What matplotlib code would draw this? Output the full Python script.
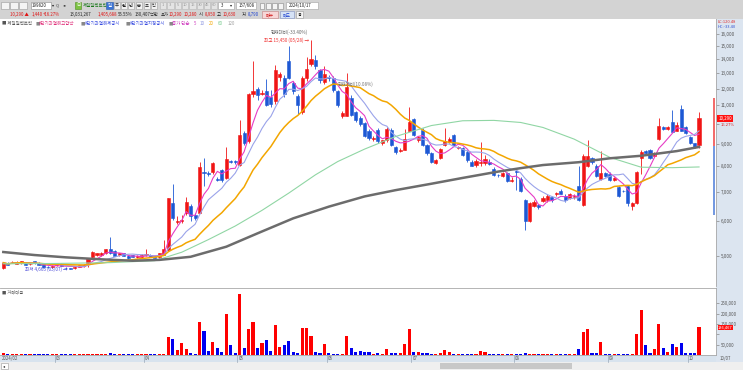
import numpy as np
import pandas as pd
import matplotlib
matplotlib.use('Agg')
import matplotlib.pyplot as plt
from matplotlib.patches import Rectangle
from matplotlib.ticker import FixedLocator, NullLocator, FuncFormatter

plt.rcParams['font.family'] = ['Noto Sans CJK KR', 'DejaVu Sans']

# daily candles 2024/02 .. 2024/10/07
opens = [4690, 4820, 4835, 4800, 4820, 4830, 4790, 4860, 4820, 4810,
         4730, 4720, 4770, 4790, 4700, 4690, 4690, 4730, 4740, 4820,
         4970, 5040, 5020, 5070, 5180, 5140, 5020, 5070, 5000, 5020,
         4980, 4970, 5020, 5040, 4990, 4980, 5030, 5160, 6600, 5980,
         6000, 6270, 6480, 6200, 6270, 7780, 7720, 7780, 7470, 7850,
         7520, 8220, 8210, 8070, 9520, 9110, 11650, 11970, 11700, 11850,
         11500, 11230, 12730, 12700, 13850, 12370, 11530, 10600, 12700, 13650,
         13950, 13210, 12420, 12750, 12700, 11850, 10400, 10400, 11430, 10640,
         10290, 10040, 9640, 9240, 9690, 9030, 9185, 9690, 8830, 8680,
         8720, 9640, 10250, 9185, 9690, 8940, 8580, 8130, 8340, 8940,
         9100, 9430, 8790, 8790, 8640, 8200, 8050, 8150, 8130, 8200,
         7870, 7660, 7590, 7710, 7390, 7790, 7480, 6700, 6000, 6480,
         6530, 6680, 6700, 6800, 6920, 7025, 6860, 6780, 6800, 7200,
         6530, 8000, 8340, 8030, 7480, 7710, 7690, 7430, 7170, 7040,
         7230, 6480, 6590, 8340, 8660, 8720, 8460, 9230, 9810, 9720,
         10080, 9640, 10790, 9810, 9300, 9030, 8950]
highs = [4850, 4850, 4880, 4860, 4880, 4850, 4830, 4880, 4840, 4830,
         4750, 4760, 4830, 4810, 4720, 4700, 4740, 4770, 4790, 4960,
         5130, 5090, 5110, 5200, 5530, 5160, 5090, 5090, 5020, 5040,
         5020, 5050, 5180, 5060, 5000, 5090, 5440, 6760, 7300, 6150,
         6200, 6800, 6560, 6250, 8200, 8350, 7800, 8200, 7550, 7900,
         8830, 8260, 8250, 10200, 9600, 11740, 13850, 12100, 11900, 12600,
         11900, 13600, 13100, 12900, 15050, 12500, 11700, 12800, 14150, 15450,
         14300, 13300, 13500, 12900, 12800, 11900, 10700, 13000, 11600, 10700,
         10400, 10100, 9700, 9350, 9750, 9200, 9800, 9750, 8900, 8800,
         9700, 10900, 10300, 9350, 9750, 9000, 8600, 8300, 8800, 9750,
         9300, 9480, 8900, 8850, 8700, 8250, 8300, 9100, 8500, 8300,
         7950, 7700, 7750, 7750, 7560, 7850, 7550, 6750, 6650, 6700,
         6560, 6850, 6900, 6850, 7000, 7100, 6900, 6950, 6900, 8000,
         8550, 9200, 8400, 8100, 8650, 7750, 7750, 7560, 7200, 7080,
         7250, 6620, 7800, 8700, 8700, 8750, 8600, 10280, 9900, 9900,
         10750, 10100, 11000, 9850, 9350, 9050, 10630]
lows = [4680, 4760, 4820, 4790, 4800, 4770, 4770, 4800, 4770, 4700,
        4700, 4700, 4750, 4740, 4680, 4665, 4680, 4720, 4730, 4720,
        4950, 5010, 5000, 5050, 5050, 4990, 5000, 4990, 4930, 4970,
        4960, 4950, 5000, 4970, 4940, 4960, 5020, 5120, 6050, 5900,
        5950, 6200, 6000, 6050, 6250, 7200, 7600, 7700, 7400, 7380,
        7500, 8150, 8100, 8000, 8950, 9050, 11500, 11300, 11600, 10950,
        10900, 11100, 12500, 11500, 12600, 11700, 10500, 10500, 12500, 13500,
        13300, 12400, 12300, 12500, 11800, 10900, 10300, 10380, 10400, 10100,
        9900, 9300, 9200, 9150, 9050, 8950, 9100, 8900, 8550, 8600,
        8700, 9600, 9350, 9100, 8900, 8500, 8150, 8100, 8300, 8900,
        9050, 8900, 8750, 8450, 8200, 8000, 7950, 8000, 8050, 8050,
        7600, 7550, 7550, 7350, 7350, 7050, 7000, 5730, 5980, 6450,
        6400, 6650, 6650, 6650, 6850, 6900, 6650, 6750, 6750, 6680,
        6500, 7950, 8100, 7550, 7450, 7580, 7400, 7400, 6800, 6980,
        6500, 6350, 6550, 7700, 8550, 8300, 8400, 9200, 9650, 9650,
        9550, 9600, 9600, 9450, 8990, 8820, 8790]
closes = [4830, 4770, 4850, 4840, 4860, 4780, 4800, 4810, 4780, 4710,
          4710, 4740, 4820, 4750, 4690, 4680, 4730, 4760, 4770, 4940,
          5110, 5070, 5090, 5180, 5070, 5000, 5070, 5000, 4940, 4980,
          5000, 5030, 5050, 4980, 4960, 5070, 5200, 6760, 6100, 6000,
          6050, 6640, 6150, 6100, 7950, 7710, 7700, 8130, 7450, 7430,
          8300, 8200, 8190, 9430, 9030, 11670, 11890, 11600, 11750, 11020,
          11100, 13210, 12940, 11700, 12700, 11850, 11020, 12700, 13290, 14040,
          13500, 12585, 12970, 12700, 11900, 11020, 10560, 12090, 10480, 10200,
          9990, 9370, 9260, 9280, 9110, 9160, 9740, 8940, 8640, 8720,
          9240, 10060, 9430, 9300, 8940, 8580, 8200, 8270, 8740, 9110,
          9230, 8940, 8860, 8500, 8270, 8030, 8220, 8180, 8300, 8100,
          7650, 7650, 7710, 7390, 7460, 7770, 7025, 6000, 6590, 6650,
          6460, 6780, 6830, 6700, 6940, 6930, 6690, 6900, 6850, 6700,
          8420, 8450, 8160, 7590, 7730, 7620, 7450, 7520, 6860, 7030,
          6590, 6590, 7775, 8640, 8580, 8340, 8540, 9850, 9720, 9810,
          9590, 9950, 9640, 9520, 9030, 8850, 10290]
volumes = [9000, 4000, 3000, 4000, 4000, 3000, 3000, 4000, 3000, 5000,
           3000, 3000, 4000, 3000, 3000, 3000, 3000, 3000, 3000, 5000,
           5000, 4000, 4000, 5000, 8000, 4000, 3000, 3000, 3000, 3000,
           3000, 3000, 4000, 3000, 3000, 4000, 5000, 86000, 76000, 24000,
           57000, 29000, 8000, 5000, 159000, 116000, 19000, 61000, 34000, 13000,
           197000, 47000, 12000, 295000, 32000, 126000, 159000, 36000, 57000, 73000,
           19000, 146000, 40000, 49000, 68000, 13000, 8000, 133000, 133000, 92000,
           13000, 8000, 52000, 11000, 6000, 5000, 6000, 94000, 36000, 16000,
           19000, 13000, 13000, 6000, 11000, 6000, 29000, 8000, 8000, 8000,
           52000, 126000, 16000, 16000, 8000, 8000, 5000, 5000, 8000, 23000,
           13000, 5000, 4000, 5000, 5000, 5000, 5000, 21000, 13000, 5000,
           6000, 4000, 4000, 5000, 4000, 5000, 6000, 8000, 6000, 4000,
           4000, 4000, 5000, 4000, 4000, 4000, 4000, 4000, 4000, 29000,
           113000, 125000, 11000, 9000, 65000, 6000, 5000, 5000, 5000, 5000,
           6000, 4000, 100000, 218000, 49000, 11000, 27000, 149000, 36000, 16000,
           53000, 40000, 60000, 11000, 9000, 9000, 136467]

# 60 / 120 day averages as drawn on the chart (need history before the window)
ma60_idx = [0, 12, 24, 34, 40, 46, 52, 58, 64, 70, 75, 81, 88, 96, 103, 110,
            116, 121, 128, 136, 143, 150, 156]
ma60_val = [4800, 4810, 4830, 4880, 5100, 5450, 5850, 6350, 6950, 7650, 8200,
            8750, 9350, 9900, 10150, 10170, 10060, 9800, 9220, 8380, 7960, 7940, 7970]
ma120_idx = [0, 7, 14, 22, 29, 35, 42, 50, 57, 65, 73, 81, 88, 96, 103, 111,
             116, 121, 129, 136, 143, 151, 156]
ma120_val = [5106, 5026, 4966, 4914, 4878, 4900, 4980, 5250, 5630, 6090, 6475,
             6830, 7060, 7300, 7525, 7780, 7920, 8050, 8170, 8340, 8450, 8660, 8850]

month_labels = ['2024/02', '03', '04', '05', '06', '07', '08', '09', '10']
month_starts = [0, 12, 32, 53, 73, 92, 115, 136, 154]
price_ticks = [5000, 6000, 7000, 8000, 9000, 10000, 11000, 12000, 13000, 14000, 15000, 16000]
vol_ticks = [50000, 100000, 150000, 200000, 250000]
hidden_labels = [10000, 100000]     # covered by the current value boxes
range_marks = [11450, 8880, 6200]   # right edge red/blue bar
hi_idx, lo_idx = 69, 15

W, H = 743, 370
fig = plt.figure(figsize=(W / 100, H / 100), dpi=100)
fig.patch.set_facecolor('white')


def fx(px):
    return px / W


def fy(py):
    return 1 - py / H


def ftext(x, y, s, **kw):
    kw.setdefault('fontsize', 3.2)
    kw.setdefault('va', 'center')
    kw.setdefault('color', '#222222')
    fig.text(fx(x), fy(y), s, **kw)


def fbox(x0, y0, x1, y1, fc, ec='none', lw=0.4, z=-1):
    fig.add_artist(Rectangle((fx(x0), fy(y1)), fx(x1) - fx(x0), fy(y0) - fy(y1),
                             transform=fig.transFigure, fc=fc, ec=ec, lw=lw, zorder=z))


def tick_fmt(v, p):
    if int(round(v)) in hidden_labels:
        return ''
    return f'{int(round(v)):,}'


# backgrounds: toolbar, right scale, date strip, scroll bar
fbox(0, 0, 743, 19, '#d3d3d3')
fbox(716, 19, 743, 362, '#dce5f0')
fbox(0, 355, 716, 362, '#d8e3ee')
fbox(0, 362, 743, 370, '#efefef')
fbox(440, 363, 572, 369, '#c8c8c8')
fbox(1, 363, 8, 369, '#ffffff', ec='#999999')
ftext(4.5, 366, '◂', fontsize=3, ha='center')

idx = np.arange(len(closes))
o = np.array(opens, float)
hgh = np.array(highs, float)
low = np.array(lows, float)
c = np.array(closes, float)
up = c >= o
col = np.where(up, '#f01515', '#1d58d4')

# price panel
ax = fig.add_axes([0, fy(286), fx(716), (286 - 19) / H])
ax.set_facecolor('white')
ax.vlines(idx, low, hgh, colors=col, lw=0.6, zorder=2)
ax.bar(idx, np.abs(c - o), bottom=np.minimum(o, c), width=0.7, color=col,
       edgecolor=col, lw=0.4, zorder=3)

s = pd.Series(closes, dtype=float)
ax.plot(idx, s.rolling(5, min_periods=1).mean(), color='#e63cc6', lw=0.8, zorder=4)
ax.plot(idx, s.rolling(10, min_periods=1).mean(), color='#9aa3ea', lw=0.8, zorder=4)
ax.plot(idx, s.rolling(20, min_periods=1).mean(), color='#f3a600', lw=1.1, zorder=4)
ax.plot(ma60_idx, ma60_val, color='#90d6a4', lw=0.8, zorder=4)
ax.plot(ma120_idx, ma120_val, color='#6c6c6c', lw=1.8, zorder=4)

ax.set_yscale('log')
ax.set_ylim(4274, 17290)
ax.set_xlim(-0.74, 159.8)
ax.xaxis.set_major_locator(NullLocator())
ax.yaxis.set_major_locator(FixedLocator(price_ticks))
ax.yaxis.set_minor_locator(NullLocator())
ax.yaxis.set_major_formatter(FuncFormatter(tick_fmt))
ax.yaxis.tick_right()
ax.tick_params(axis='y', length=2, width=0.5, color='#888888', labelsize=3.3,
               labelcolor='#555555', pad=1.5)
for sp in ['left', 'top', 'bottom']:
    ax.spines[sp].set_visible(False)
ax.spines['right'].set_color('#a8a8a8')
ax.spines['right'].set_linewidth(0.6)

ytr = ax.get_yaxis_transform()
ax.vlines(0.9975, range_marks[1], range_marks[0], colors='#f04040', lw=1.1, transform=ytr)
ax.vlines(0.9975, range_marks[2], range_marks[1], colors='#4a7ad8', lw=1.1, transform=ytr)

# annotations
ax.text(hi_idx - 0.5, highs[hi_idx], f'최고 {highs[hi_idx]:,} (05/28) →', ha='right',
        va='center', fontsize=3.3, color='#f03030', zorder=5)
ax.text(hi_idx - 0.8, highs[hi_idx] * 1.042, '현재대비(-33.40%)', ha='right',
        va='center', fontsize=3.3, color='#666666', zorder=5)
ax.text(lo_idx - 0.6, lows[lo_idx], f'최저 {lows[lo_idx]:,} (03/07) →', ha='right',
        va='center', fontsize=3.3, color='#4a4ad8', zorder=5)
ax.text(75, 12300, '현재대비(10.08%)', ha='left', va='center', fontsize=3.3,
        color='#777777', zorder=5)

ax.text(1.003, closes[-1], f'{closes[-1]:,}', transform=ytr, ha='left', va='center',
        fontsize=3.2, color='white', zorder=6,
        bbox=dict(boxstyle='square,pad=0.2', fc='#ff1010', ec='none'))
ax.text(1.006, closes[-1] * 0.965, '16.27%', transform=ytr, ha='left', va='center',
        fontsize=3, color='#e02020', zorder=6)

# volume panel
axv = fig.add_axes([0, fy(355), fx(716), (355 - 288) / H])
vcol = np.where(up, '#ff0000', '#0000f0')
axv.bar(idx, volumes, width=0.7, color=vcol, zorder=2)
axv.set_xlim(-0.74, 159.8)
axv.set_ylim(0, 325000)
axv.xaxis.set_major_locator(NullLocator())
axv.yaxis.set_major_locator(FixedLocator(vol_ticks))
axv.yaxis.set_major_formatter(FuncFormatter(tick_fmt))
axv.yaxis.tick_right()
axv.tick_params(axis='y', length=2, width=0.5, color='#888888', labelsize=3.1,
                labelcolor='#555555', pad=1.5)
axv.spines['left'].set_visible(False)
for sp in ['top', 'right', 'bottom']:
    axv.spines[sp].set_color('#a8a8a8')
    axv.spines[sp].set_linewidth(0.6)
vtr = axv.get_yaxis_transform()
axv.text(1.003, volumes[-1] * 0.97, f'{volumes[-1]:,}', transform=vtr, ha='left', va='center',
         fontsize=2.9, color='white', zorder=6,
         bbox=dict(boxstyle='square,pad=0.1', fc='#ff1010', ec='none'))
ftext(2, 291.7, '■ 거래대금', color='#555555', fontsize=3.1)

# date strip
for lab, m in zip(month_labels, month_starts):
    xp = 3.3 + 4.46 * m - 2.2
    if m > 0:
        fig.add_artist(plt.Line2D([fx(xp), fx(xp)], [fy(355), fy(362)],
                                  color='#9aa8b8', lw=0.5))
    ftext(xp + 1, 358.5, lab, color='#555555', fontsize=3.1, ha='left')
ftext(720, 358.5, '10/07', color='#555555', fontsize=3.1, ha='left')

# toolbar row 1
for x0 in [1, 10, 19]:
    fbox(x0, 2, x0 + 8, 9, '#f4f4f4', ec='#9a9a9a', z=1)
fbox(31, 2, 51, 9, 'white', ec='#8a8a8a', z=1)
ftext(32, 5.5, '199820', ha='left', fontsize=3.2)
ftext(53, 5.5, '▾', fontsize=3, ha='center')
ftext(57.5, 5.5, 'Q', fontsize=3, ha='center', color='#444444')
ftext(65, 5.5, '◂▸', fontsize=3, ha='center', color='#444444')
fbox(75, 2, 81, 9, '#7cc242', ec='#4e8a22', z=1)
ftext(78, 5.5, '日', fontsize=3, ha='center', color='white')
ftext(83, 5.5, '제일일렉트릭', ha='left', fontsize=3.2, color='#1f7a1f')
fbox(106, 2, 113, 9, '#3b74d6', ec='#2a5aa8', z=1)
ftext(109.5, 5.5, '일', fontsize=3.2, ha='center', color='white')
for lab, xp in zip(['주', '월', '년', '분', '초', '틱'], [116.5, 123.5, 131, 138.5, 146.5, 154]):
    fbox(xp - 3, 2, xp + 3, 9, '#f2f2f2', ec='#a0a0a0', z=1)
    ftext(xp, 5.5, lab, fontsize=3.1, ha='center')
for lab, xp in zip(['1', '3', '5', '10', '15', '30', '45', '60'],
                   [163, 170.5, 178, 185, 192.5, 200, 207, 214]):
    fbox(xp - 3.2, 2, xp + 3.2, 9, '#e4e4e4', ec='#b8b8b8', z=1)
    ftext(xp, 5.5, lab, fontsize=3, ha='center', color='#999999')
fbox(218, 2, 234, 9, 'white', ec='#a0a0a0', z=1)
ftext(222, 5.5, '3', fontsize=3.1, ha='center')
ftext(231, 5.5, '▾', fontsize=3, ha='center')
fbox(236, 2, 256, 9, 'white', ec='#a0a0a0', z=1)
ftext(239, 5.5, '157/608', fontsize=3.1, ha='left')
for xp in [262, 268, 274, 280]:
    fbox(xp - 2.5, 2.5, xp + 2.5, 8.5, '#f4f4f4', ec='#888888', z=1)
fbox(286, 2, 318, 9, 'white', ec='#a0a0a0', z=1)
ftext(289, 5.5, '2024/10/17', fontsize=3.1, ha='left')

# toolbar row 2
row2 = [(10, '10,290 ▲', '#e01010'), (32, '1,440', '#e01010'), (43, '+16.27%', '#e01010'),
        (70, '13,031,267', '#222222'), (98, '1,405,688', '#e01010'), (118, '55.55%', '#222222'),
        (135, '130,407백만', '#222222'), (161, '호가', '#222222'), (169, '10,290', '#e01010'),
        (184, '10,280', '#e01010'), (199, '시', '#222222'), (205, '8,950', '#e01010'),
        (217, '고', '#222222'), (223, '10,630', '#e01010'), (242, '저', '#222222'),
        (248, '8,790', '#1a3fd0')]
for xp, lab, cc in row2:
    ftext(xp, 14.5, lab, ha='left', color=cc, fontsize=3.1)
fbox(262, 11, 278, 18, '#f7d6d6', ec='#c08080', z=1)
ftext(270, 14.5, '매수', ha='center', color='#d01010', fontsize=3.1)
fbox(280, 11, 294, 18, '#d6e2f5', ec='#8090c0', z=1)
ftext(287, 14.5, '매도', ha='center', color='#1a3fd0', fontsize=3.1)
fbox(296, 11, 303, 18, '#f4f4f4', ec='#999999', z=1)
ftext(299.5, 14.5, '용', ha='center', fontsize=3)

# legend row
legend = [(2, '■ 제일일렉트릭', '#555555'), (35.5, '■', '#888888'),
          (39, '#단기과열해고압박', '#e0307a'), (81, '■', '#888888'),
          (85, '#단기과열해제공시', '#3b4ee0'), (126, '■', '#888888'),
          (130, '#단기과열지정공시', '#3b4ee0'), (168.5, '■', '#888888'),
          (172, '종가 단순', '#d040c0'), (194, '5', '#d040c0'), (199.5, '10', '#8a94e0'),
          (208.5, '20', '#f3a600'), (218, '60', '#70c888'), (228, '120', '#a0a0a0')]
for xp, lab, cc in legend:
    ftext(xp, 23.5, lab, ha='left', color=cc, fontsize=3.2)

ftext(718, 22, 'LC:120.48', ha='left', color='#e03030', fontsize=2.9)
ftext(718, 26.5, 'HC:-33.40', ha='left', color='#3050d0', fontsize=2.9)

fig.savefig('out.png', dpi=100)
